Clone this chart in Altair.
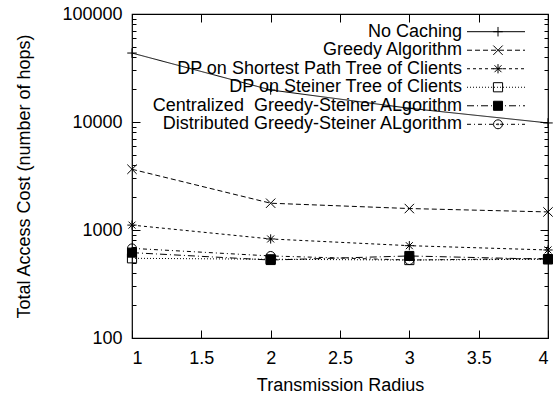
import altair as alt
import pandas as pd

x_vals = [1, 2, 3, 4]
series_names = [
    "No Caching",
    "Greedy Algorithm",
    "DP on Shortest Path Tree of Clients",
    "DP on Steiner Tree of Clients",
    "Centralized\u00a0 Greedy-Steiner ALgorithm",
    "Distributed Greedy-Steiner ALgorithm",
]
no_caching = [43500, 19800, 13400, 9800]
greedy = [3650, 1770, 1580, 1470]
dp_spt = [1110, 826, 716, 653]
dp_steiner = [547, 536, 527, 536]
centralized = [617, 527, 575, 536]
distributed = [676, 575, 527, 545]

x_ticks = [1, 1.5, 2, 2.5, 3, 3.5, 4]
y_major = [100, 1000, 10000, 100000]

values = [no_caching, greedy, dp_spt, dp_steiner, centralized, distributed]
rows = []
for name, vals in zip(series_names, values):
    for xv, yv in zip(x_vals, vals):
        rows.append({"series": name, "x": xv, "y": yv})
df = pd.DataFrame(rows)

y_ticks = [m * k for m in y_major[:-1] for k in range(1, 10)] + [y_major[-1]]

FONT = "Liberation Sans"
W, H = 416, 324

dashes = [[1, 0], [5, 3], [3, 3], [1, 2], [7, 3, 1, 3], [4, 3, 1, 3]]
plus = "M-1,0L1,0M0,-1L0,1"
cross = "M-1,-1L1,1M-1,1L1,-1"
star = "M-1,0L1,0M0,-1L0,1M-0.75,-0.75L0.75,0.75M-0.75,0.75L0.75,-0.75"
circ = "M1,0A1,1,0,1,1,-1,0A1,1,0,1,1,1,0M0.15,0A0.15,0.15,0,1,1,-0.15,0A0.15,0.15,0,1,1,0.15,0"
shapes = [plus, cross, star, "square", "square", circ]
fills = ["transparent", "transparent", "transparent", "transparent", "black", "transparent"]
sizes = [90, 80, 80, 60, 70, 70]

x_scale = alt.Scale(domain=[1, 4], nice=False, zero=False)
y_scale = alt.Scale(type="log", domain=[100, 100000], nice=False)

dash_enc = alt.StrokeDash("series:N", scale=alt.Scale(domain=series_names, range=dashes), legend=None)
shape_enc = alt.Shape("series:N", scale=alt.Scale(domain=series_names, range=shapes), legend=None)
fill_enc = alt.Fill("series:N", scale=alt.Scale(domain=series_names, range=fills), legend=None)
size_enc = alt.Size("series:N", scale=alt.Scale(domain=series_names, range=sizes), legend=None)

major_test = "indexof([100,1000,10000,100000], datum.value) >= 0"

base = alt.Chart(df)

lines = base.mark_line(color="black", strokeWidth=1).encode(
    x=alt.X("x:Q", scale=x_scale, axis=alt.Axis(
        orient="bottom", values=x_ticks, format="~g", ticks=False, domain=False,
        labelPadding=11, title="Transmission Radius", titlePadding=9)),
    y=alt.Y("y:Q", scale=y_scale, axis=alt.Axis(
        orient="left", values=y_ticks, format="d", ticks=False, domain=False,
        labelPadding=10, labelExpr=f"{major_test} ? datum.label : ''",
        title="Total Access Cost (number of hops)", titlePadding=28)),
    strokeDash=dash_enc,
    detail="series:N",
)

points = base.mark_point(stroke="black", strokeWidth=1, opacity=1).encode(
    x=alt.X("x:Q", scale=x_scale, axis=None),
    y=alt.Y("y:Q", scale=y_scale, axis=None),
    shape=shape_enc,
    fill=fill_enc,
    size=size_enc,
)

tick_y = {"condition": {"test": major_test, "value": 8}, "value": 4}

ticks_a = base.mark_point(opacity=0).encode(
    x=alt.X("x:Q", scale=x_scale, axis=alt.Axis(
        orient="top", offset=-H, values=x_ticks, labels=False, domain=False,
        tickSize=8, title=None)),
    y=alt.Y("y:Q", scale=y_scale, axis=alt.Axis(
        orient="right", offset=-W, values=y_ticks, labels=False, domain=False,
        tickSize=tick_y, title=None)),
)

ticks_b = base.mark_point(opacity=0).encode(
    x=alt.X("x:Q", scale=x_scale, axis=alt.Axis(
        orient="bottom", offset=-H, values=x_ticks, labels=False, domain=False,
        tickSize=8, title=None)),
    y=alt.Y("y:Q", scale=y_scale, axis=alt.Axis(
        orient="left", offset=-W, values=y_ticks, labels=False, domain=False,
        tickSize=tick_y, title=None)),
)

main = alt.layer(ticks_a, ticks_b, lines, points).resolve_axis(x="independent", y="independent")

leg_df = pd.DataFrame({"series": series_names})
leg_y = alt.Y("series:N", scale=alt.Scale(type="point", domain=series_names, range=[17.7, 110.3], padding=0), axis=None)
leg_base = alt.Chart(leg_df)
leg_text = leg_base.mark_text(align="right", baseline="middle", font=FONT, fontSize=18, color="black").encode(
    x=alt.value(330), y=leg_y, text="series:N")
leg_rule = leg_base.mark_rule(color="black", strokeWidth=1).encode(
    x=alt.value(335), x2=alt.value(393), y=leg_y, strokeDash=dash_enc)
leg_pts = leg_base.mark_point(stroke="black", strokeWidth=1, opacity=1).encode(
    x=alt.value(366), y=leg_y, shape=shape_enc, fill=fill_enc, size=size_enc)
legend = alt.layer(leg_text, leg_rule, leg_pts)

chart = alt.layer(legend, main).resolve_scale(y="independent").properties(
    width=W, height=H,
    autosize=alt.AutoSizeParams(type="none"),
    padding={"left": 132, "top": 14, "right": 5, "bottom": 61},
).configure_view(stroke="black", strokeWidth=1.2).configure_axis(
    labelFont=FONT, labelFontSize=18, labelColor="black",
    titleFont=FONT, titleFontSize=18, titleFontWeight="normal", titleColor="black",
    tickColor="black", tickWidth=1, grid=False,
)

chart.save("out.html", embed_options={"renderer": "svg", "actions": False})
